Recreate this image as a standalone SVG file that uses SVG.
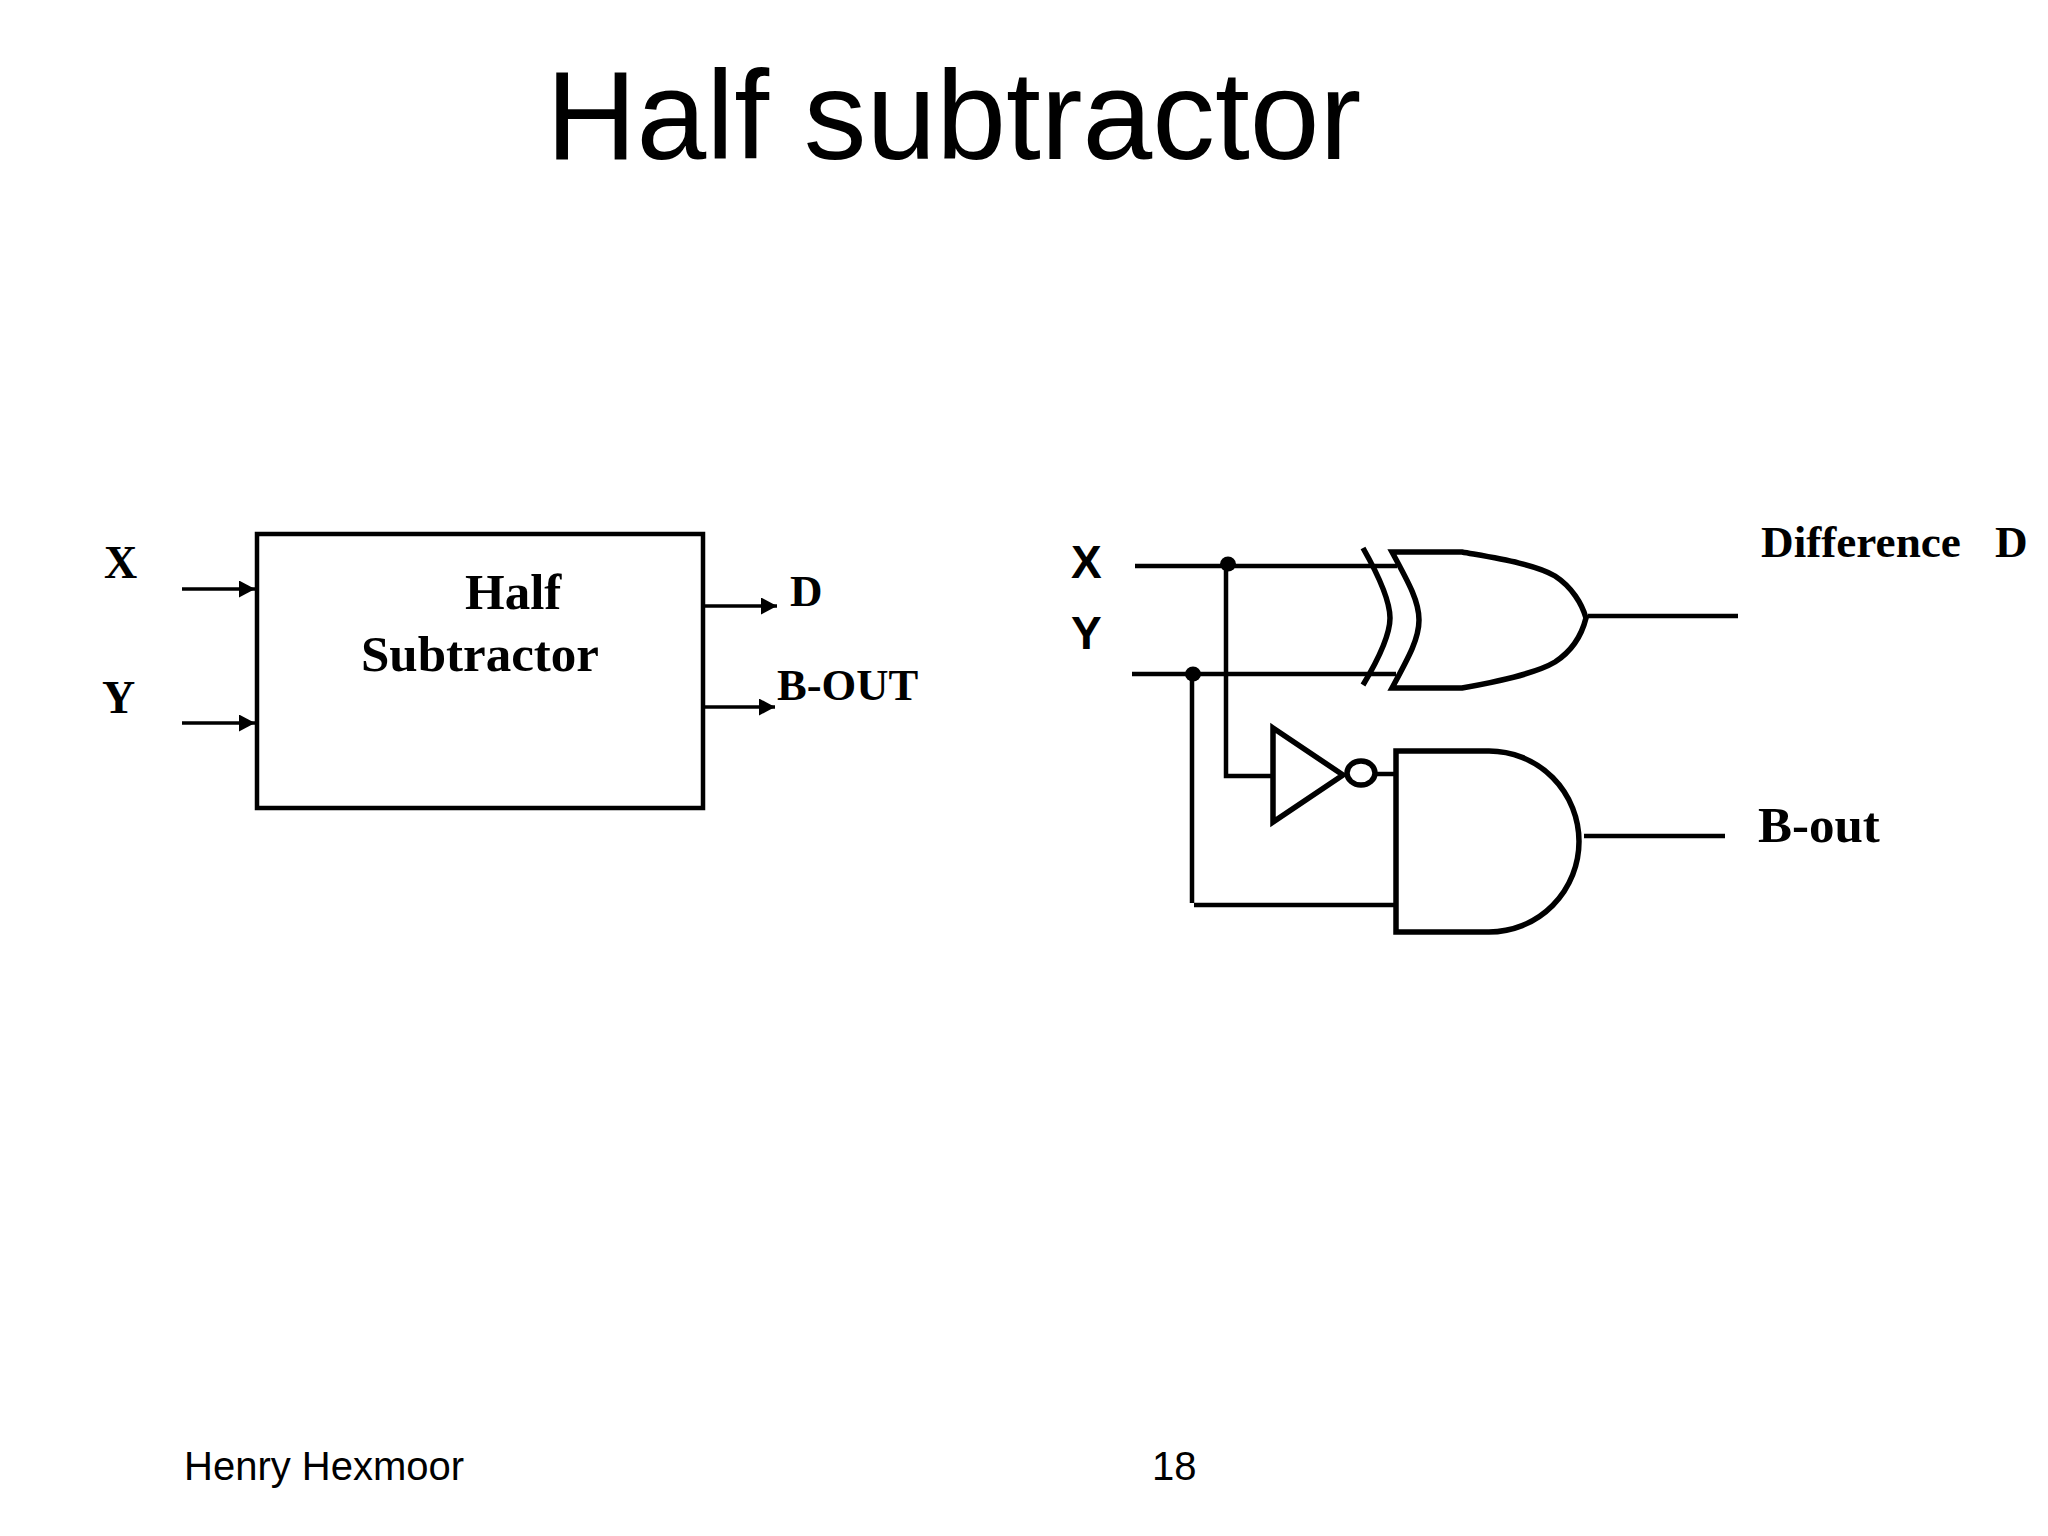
<svg xmlns="http://www.w3.org/2000/svg" width="2048" height="1536" viewBox="0 0 2048 1536">
<defs>
<style>
.sans{font-family:"Liberation Sans",Arial,sans-serif;fill:#000}
.serif{font-family:"Liberation Serif","Times New Roman",serif;font-weight:bold;fill:#000}
.w{fill:none;stroke:#000;stroke-width:4.5}
.g{fill:#fff;stroke:#000;stroke-width:5.5}
.o{fill:none;stroke:#000;stroke-width:3.5}
</style>
<marker id="ah" markerUnits="userSpaceOnUse" markerWidth="17" markerHeight="17" refX="16" refY="8.5" orient="auto"><path d="M0 0L16 8.5L0 17Z" fill="#000"/></marker>
</defs>
<rect width="2048" height="1536" fill="#fff"/>
<text class="sans" x="546" y="159" font-size="125.4">Half subtractor</text>
<text class="sans" x="184" y="1480" font-size="40">Henry Hexmoor</text>
<text class="sans" x="1152" y="1480" font-size="40">18</text>
<g id="connectors">
<path class="o" marker-end="url(#ah)" d="M182 589H255"/>
<path class="o" marker-end="url(#ah)" d="M182 723H255"/>
<path class="o" marker-end="url(#ah)" d="M704 606H777"/>
<path class="o" marker-end="url(#ah)" d="M704 707H775"/>
<path class="w" d="M1135 566H1397"/>
<path class="w" d="M1132 674H1396"/>
<path class="w" d="M1226 565V776H1272"/>
<path class="w" d="M1192 674V903"/>
<path class="w" d="M1194 905H1395"/>
<path class="w" d="M1374 774H1394"/>
<path class="w" d="M1588 616H1738"/>
<path class="w" d="M1584 836H1725"/>
<ellipse cx="1228" cy="564" rx="8" ry="7.5" fill="#000"/>
<ellipse cx="1193" cy="674" rx="8" ry="7.5" fill="#000"/>
</g>
<g id="half-subtractor-block">
<rect x="257" y="534" width="446" height="274" fill="none" stroke="#000" stroke-width="4.5"/>
<text class="serif" x="465" y="609" font-size="51">Half</text>
<text class="serif" x="361" y="671" font-size="51">Subtractor</text>
</g>
<g id="xor-gate">
<path class="o" style="stroke-width:5.5" d="M1363 548C1384 585 1390 605 1390 618C1390 631 1384 650 1363 685"/>
<path class="g" d="M1392 552H1462C1495 558 1535 564 1555 576C1572 587 1582 604 1586 618C1582 634 1572 651 1555 662C1535 674 1495 682 1462 688H1392C1410 655 1419 638 1419 620C1419 602 1410 585 1392 552Z"/>
</g>
<g id="not-gate">
<path class="g" d="M1273 728L1343 775L1273 822Z"/>
<ellipse class="g" cx="1361" cy="773" rx="14" ry="12"/>
</g>
<g id="and-gate">
<path class="g" d="M1396 751H1489A90 90.5 0 0 1 1489 932H1396Z"/>
</g>
<g id="labels">
<text class="serif" x="104" y="578" font-size="46">X</text>
<text class="serif" x="102" y="713" font-size="46">Y</text>
<text class="serif" x="790" y="606" font-size="45">D</text>
<text class="serif" x="777" y="700" font-size="44.6">B-OUT</text>
<text class="serif" x="1761" y="557" font-size="45.2">Difference<tspan x="1995">D</tspan></text>
<text class="serif" x="1758" y="842" font-size="51">B-out</text>
<text class="sans" font-weight="bold" x="1071" y="578" font-size="46">X</text>
<text class="sans" font-weight="bold" x="1071" y="649" font-size="46">Y</text>
</g>
</svg>
